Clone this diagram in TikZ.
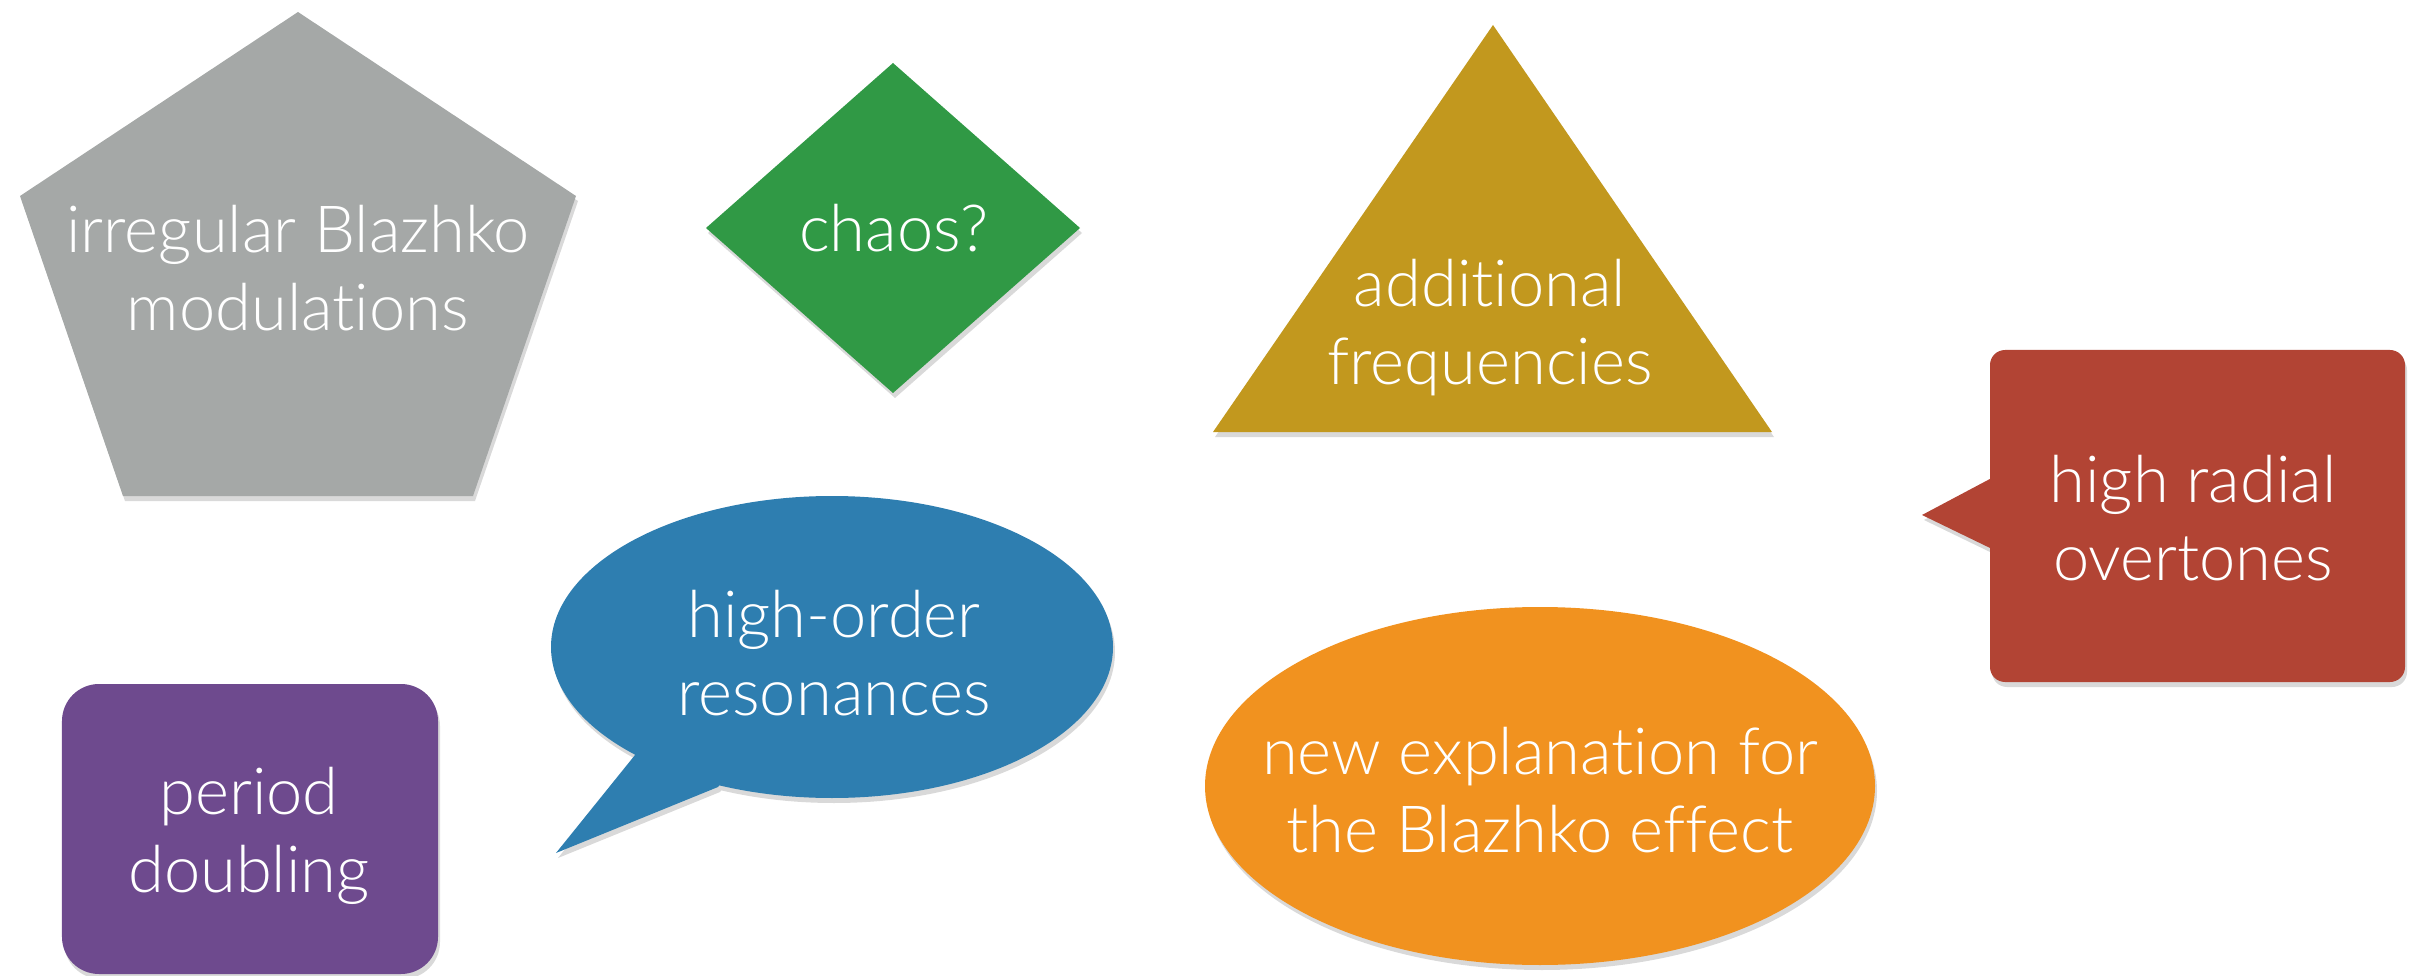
\documentclass[tikz,border=0pt]{standalone}
\usepackage{fontspec}
\setmainfont{Lato}[UprightFont=* Light, Ligatures=CommonOff]
\usetikzlibrary{shadows}
\definecolor{pentgray}{RGB}{165,168,167}
\definecolor{chaosgreen}{RGB}{48,153,69}
\definecolor{freqgold}{RGB}{194,152,30}
\definecolor{radialred}{RGB}{178,68,52}
\definecolor{doubpurple}{RGB}{110,74,142}
\definecolor{resblue}{RGB}{46,126,176}
\definecolor{explorange}{RGB}{241,146,31}

\begin{document}
\begin{tikzpicture}[
    label/.style={text=white, align=center, inner sep=0pt,
        font=\fontsize{18.5}{22.2}\selectfont},
    shade/.style={drop shadow={opacity=0.3, shadow xshift=0.02cm, shadow yshift=-0.05cm}},
]

%--- Coordinates ---
\def\resX{8.32}     % bubble ellipse center x
\def\resY{-6.47}    % bubble ellipse center y
\def\explX{15.40}   % orange ellipse center x
\def\explY{-7.86}   % orange ellipse center y

% page frame
\useasboundingbox (0,0) rectangle (24.15,-9.76);

%============================================================
% Pentagon: irregular modulations
%============================================================
\fill[pentgray, shade] (2.98,-0.12) -- (5.76,-1.96) -- (4.73,-4.96)
    -- (1.23,-4.96) -- (0.20,-1.96) -- cycle;
\node[label] (irregular) at (2.98,-2.68) {irregular Blazhko\\modulations};

%============================================================
% Diamond: chaos
%============================================================
\fill[chaosgreen, shade] (7.06,-2.28) -- (8.93,-0.63) -- (10.80,-2.28)
    -- (8.93,-3.93) -- cycle;
\node[label] (chaos) at (8.94,-2.28) {chaos?};

%============================================================
% Triangle: additional frequencies
%============================================================
\fill[freqgold, shade] (14.93,-0.25) -- (17.72,-4.32) -- (12.13,-4.32) -- cycle;
\node[label] (frequencies) at (14.90,-3.28) {additional\\frequencies};

%============================================================
% Callout box: radial overtones
%============================================================
\fill[radialred, shade]
    [rounded corners=0.15cm] (19.90,-3.50) rectangle (24.05,-6.82)
    [sharp corners] (20.20,-4.63) -- (19.22,-5.15) -- (20.20,-5.625) -- cycle;
\node[label] (overtones) at (21.93,-5.18) {high radial\\overtones};

%============================================================
% Rounded box: period doubling
%============================================================
\fill[doubpurple, shade, rounded corners=0.37cm] (0.62,-6.84) rectangle (4.38,-9.74);
\node[label] (doubling) at (2.49,-8.36) {period\\doubling};

%============================================================
% Speech bubble: high-order resonances
%============================================================
\fill[resblue, shade] (\resX,\resY) ellipse [x radius=2.81, y radius=1.51]
    (6.35,-7.55) -- (5.56,-8.53) -- (7.18,-7.87) -- (\resX,\resY) -- cycle;
\node[label] (resonances) at (8.34,-6.53) {high-order\\resonances};

%============================================================
% Ellipse: new explanation
%============================================================
\fill[explorange, shade] (\explX,\explY) ellipse [x radius=3.35, y radius=1.79];
\node[label] (explanation) at (15.40,-7.90) {new explanation for\\the Blazhko effect};

\end{tikzpicture}
\end{document}
